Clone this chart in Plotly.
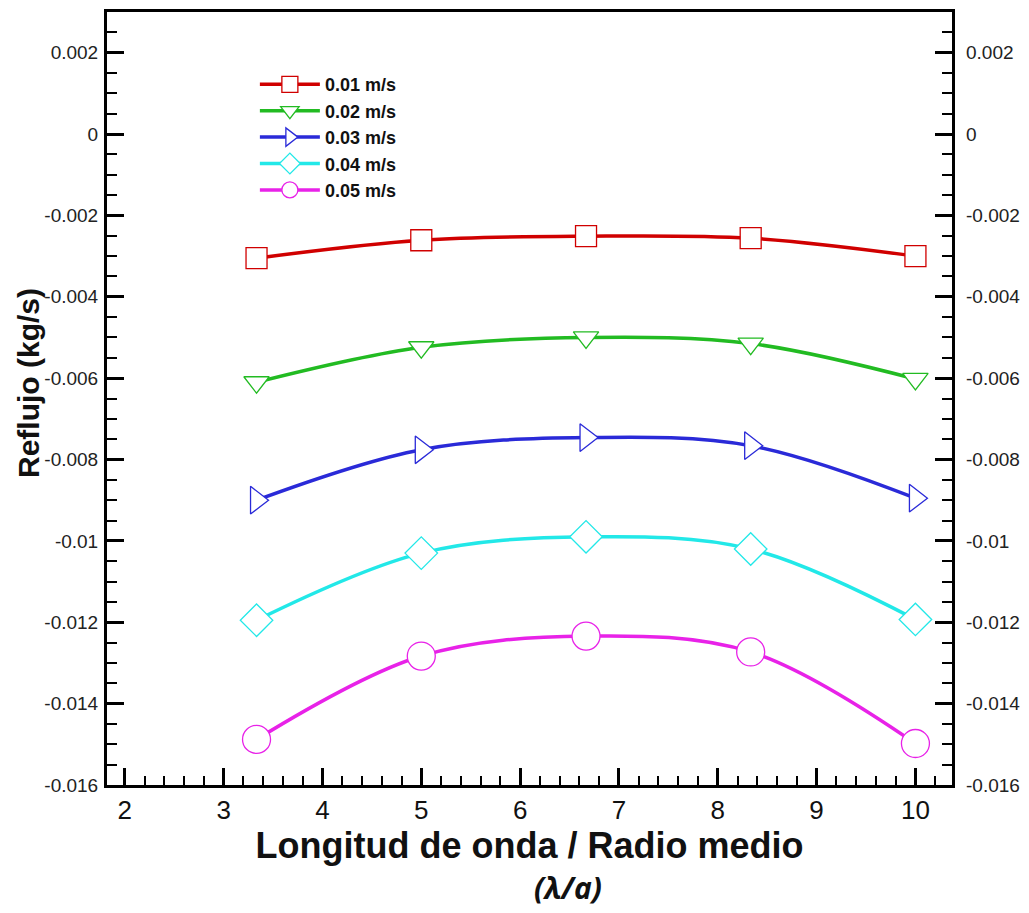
import plotly.graph_objects as go

x_vals = [3.333, 5.0, 6.667, 8.333, 10.0]
series_names = ["0.01 m/s", "0.02 m/s", "0.03 m/s", "0.04 m/s", "0.05 m/s"]
y_001 = [-0.00305, -0.00261, -0.00251, -0.00256, -0.00300]
y_002 = [-0.00610, -0.00524, -0.00500, -0.00515, -0.00602]
y_003 = [-0.00900, -0.00776, -0.00746, -0.00766, -0.00895]
y_004 = [-0.01195, -0.01030, -0.00990, -0.01020, -0.01193]
y_005 = [-0.01488, -0.01283, -0.01234, -0.01273, -0.01498]
series_values = [y_001, y_002, y_003, y_004, y_005]

x_ticks = [2, 3, 4, 5, 6, 7, 8, 9, 10]
y_ticks = [0.002, 0, -0.002, -0.004, -0.006, -0.008, -0.01, -0.012, -0.014, -0.016]
y_tick_text = ["0.002", "0", "-0.002", "-0.004", "-0.006", "-0.008", "-0.01", "-0.012", "-0.014", "-0.016"]

colors = ["#d00000", "#22bb22", "#2a2ad8", "#22e8e8", "#e822e8"]
symbols = ["square", "triangle-down", "triangle-right", "diamond", "circle"]
sizes = [21, 22, 24, 25, 28]

fig = go.Figure()
for name, ys, c, s, sz in zip(series_names, series_values, colors, symbols, sizes):
    fig.add_trace(go.Scatter(
        x=x_vals, y=ys, name=name, mode="lines+markers",
        line=dict(color=c, width=3.5, shape="spline", smoothing=1.0),
        marker=dict(symbol=s, size=sz, color="white", line=dict(width=1.3, color=c)),
    ))

# invisible trace for right-hand labels
fig.add_trace(go.Scatter(x=[x_vals[0]], y=[y_001[0]], yaxis="y2", showlegend=False,
                         mode="markers", marker=dict(opacity=0), hoverinfo="skip"))

tickfont_y = dict(family="Liberation Sans, Arial", size=19, color="#222")
fig.update_layout(
    width=1029, height=913,
    margin=dict(l=107, r=74, t=9, b=128),
    paper_bgcolor="white", plot_bgcolor="white",
    showlegend=True,
    legend=dict(x=0.175, y=0.93, xanchor="left", yanchor="top",
                font=dict(family="Liberation Sans, Arial", size=18, color="#111", weight="bold"),
                bgcolor="rgba(0,0,0,0)", tracegroupgap=0, itemwidth=60),
    xaxis=dict(range=[1.82, 10.37], tickvals=x_ticks, ticks="inside", ticklen=17, tickwidth=3,
               tickcolor="black", showline=True, linewidth=3, linecolor="black", mirror=True,
               showgrid=False, zeroline=False,
               tickfont=dict(family="Liberation Sans, Arial", size=26, color="#111"),
               minor=dict(dtick=0.2, ticks="inside", ticklen=9, tickwidth=1.5, tickcolor="black", showgrid=False),
               title=dict(text="<b>Longitud de onda / Radio medio</b>", standoff=4,
                          font=dict(family="Liberation Sans, Arial", size=36, color="#111"))),
    yaxis=dict(range=[-0.016, 0.003], tickvals=y_ticks, ticktext=y_tick_text, ticks="inside",
               ticklen=17, tickwidth=3, tickcolor="black", showline=True, linewidth=3, linecolor="black",
               mirror="ticks", showgrid=False, zeroline=False, tickfont=tickfont_y, ticklabelstandoff=2,
               minor=dict(dtick=0.0005, ticks="inside", ticklen=10, tickwidth=1.5, tickcolor="black", showgrid=False)),
    yaxis2=dict(range=[-0.016, 0.003], overlaying="y", side="right", tickvals=y_ticks, ticktext=y_tick_text,
                ticks="", showline=False, showgrid=False, zeroline=False, tickfont=tickfont_y, matches="y",
                ticklabelstandoff=13),
)

fig.add_annotation(text="<b>Reflujo (kg/s)</b>", xref="paper", yref="paper",
                   x=-0.093, y=1 - (381 - 9) / 776, xanchor="center", yanchor="middle", textangle=-90,
                   showarrow=False, font=dict(family="Liberation Sans, Arial", size=30, color="#111"))

fig.add_annotation(text="<b><i>(λ/a)</i></b>", xref="paper", yref="paper", x=0.545, y=-0.103,
                   xanchor="center", yanchor="top", showarrow=False,
                   font=dict(family="Open Sans, Liberation Sans", size=30, color="#111"))

fig.write_html("out.html")
